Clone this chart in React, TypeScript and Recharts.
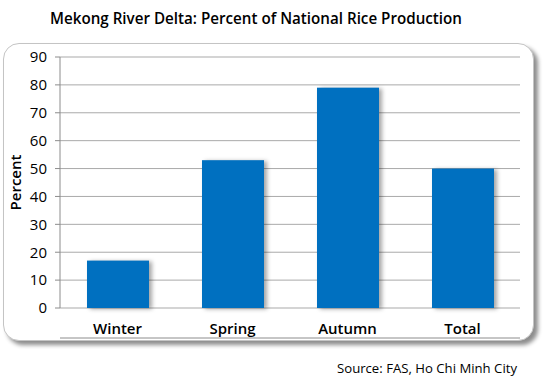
import { Bar, BarChart, CartesianGrid, XAxis, YAxis, Label } from "recharts";

const seasons = ["Winter", "Spring", "Autumn", "Total"];
const percentShare = [17, 53, 79, 50];
const yTicks = [0, 10, 20, 30, 40, 50, 60, 70, 80, 90];
const boundaryTicks = [0, 1, 2, 3, 4];

const chartTitle = "Mekong River Delta:  Percent of National Rice Production";
const sourceNote = "Source: FAS, Ho Chi Minh City";

const theme = {
  bar: "#0070c0",
  grid: "#a9a9a9",
  axis: "#8c8c8c",
  text: "#000000",
  frameBorder: "#c4c4c4",
  font: "'Open Sans', 'Noto Sans', sans-serif",
};

const data = seasons.map((season, i) => ({ season, pos: i + 0.5, value: percentShare[i] }));

function ShadowBar(props: any) {
  const { x, y, width, height } = props;
  return (
    <rect
      x={x}
      y={y}
      width={width}
      height={height}
      fill={theme.bar}
      style={{ filter: "drop-shadow(3px 1px 2px rgba(0,0,0,0.35))" }}
    />
  );
}

export default function App() {
  return (
    <div style={{ position: "absolute", left: 0, top: 0, width: 550, height: 385, background: "#fff", fontFamily: theme.font }}>
      <style>{"body{margin:0}"}</style>

      <div
        style={{
          position: "absolute",
          left: 3,
          top: 43,
          width: 529,
          height: 296,
          border: `1.5px solid ${theme.frameBorder}`,
          borderRadius: 16,
          boxShadow: "4px 4px 4px rgba(0,0,0,0.45)",
          background: "#fff",
        }}
      />

      <svg width={550} height={385} style={{ position: "absolute", left: 0, top: 0 }}>
        <text
          x={256}
          y={24}
          textAnchor="middle"
          fontSize={17}
          fontWeight={600}
          fontFamily={theme.font}
          textLength={412}
          lengthAdjust="spacingAndGlyphs"
          fill={theme.text}
        >
          {chartTitle}
        </text>
        <text
          x={517}
          y={373}
          textAnchor="end"
          fontSize={13}
          fontFamily={theme.font}
          textLength={180}
          lengthAdjust="spacingAndGlyphs"
          fill={theme.text}
        >
          {sourceNote}
        </text>
      </svg>

      <div style={{ position: "absolute", left: 0, top: 0 }}>
        <BarChart
          width={550}
          height={385}
          data={data}
          margin={{ top: 57, right: 30, bottom: 41, left: 5 }}
        >
          <CartesianGrid vertical={false} stroke={theme.grid} strokeWidth={1} />
          <XAxis
            xAxisId="ticks"
            type="number"
            dataKey="pos"
            domain={[0, 4]}
            ticks={boundaryTicks}
            tick={false}
            tickSize={5}
            height={6}
            axisLine={{ stroke: theme.axis }}
            tickLine={{ stroke: theme.axis }}
          />
          <XAxis
            xAxisId="cats"
            dataKey="season"
            height={30}
            axisLine={false}
            tickLine={false}
            tickSize={0}
            tickMargin={15}
            tick={{ fill: theme.text, fontSize: 15, fontWeight: 600, fontFamily: theme.font }}
          />
          <YAxis
            domain={[0, 90]}
            ticks={yTicks}
            width={55}
            tickSize={5}
            tickMargin={8}
            axisLine={{ stroke: theme.axis }}
            tickLine={{ stroke: theme.axis }}
            tick={{ fill: theme.text, fontSize: 15, fontFamily: theme.font }}
          >
            <Label
              content={({ viewBox }: any) => (
                <text
                  x={viewBox.x + 10}
                  y={viewBox.y + viewBox.height / 2}
                  transform={`rotate(-90 ${viewBox.x + 10} ${viewBox.y + viewBox.height / 2})`}
                  textAnchor="middle"
                  dominantBaseline="central"
                  fontSize={15}
                  fontWeight={600}
                  fontFamily={theme.font}
                  fill={theme.text}
                >
                  Percent
                </text>
              )}
            />
          </YAxis>
          <Bar xAxisId="cats" dataKey="value" barSize={62} shape={ShadowBar} isAnimationActive={false} />
        </BarChart>
      </div>
    </div>
  );
}
